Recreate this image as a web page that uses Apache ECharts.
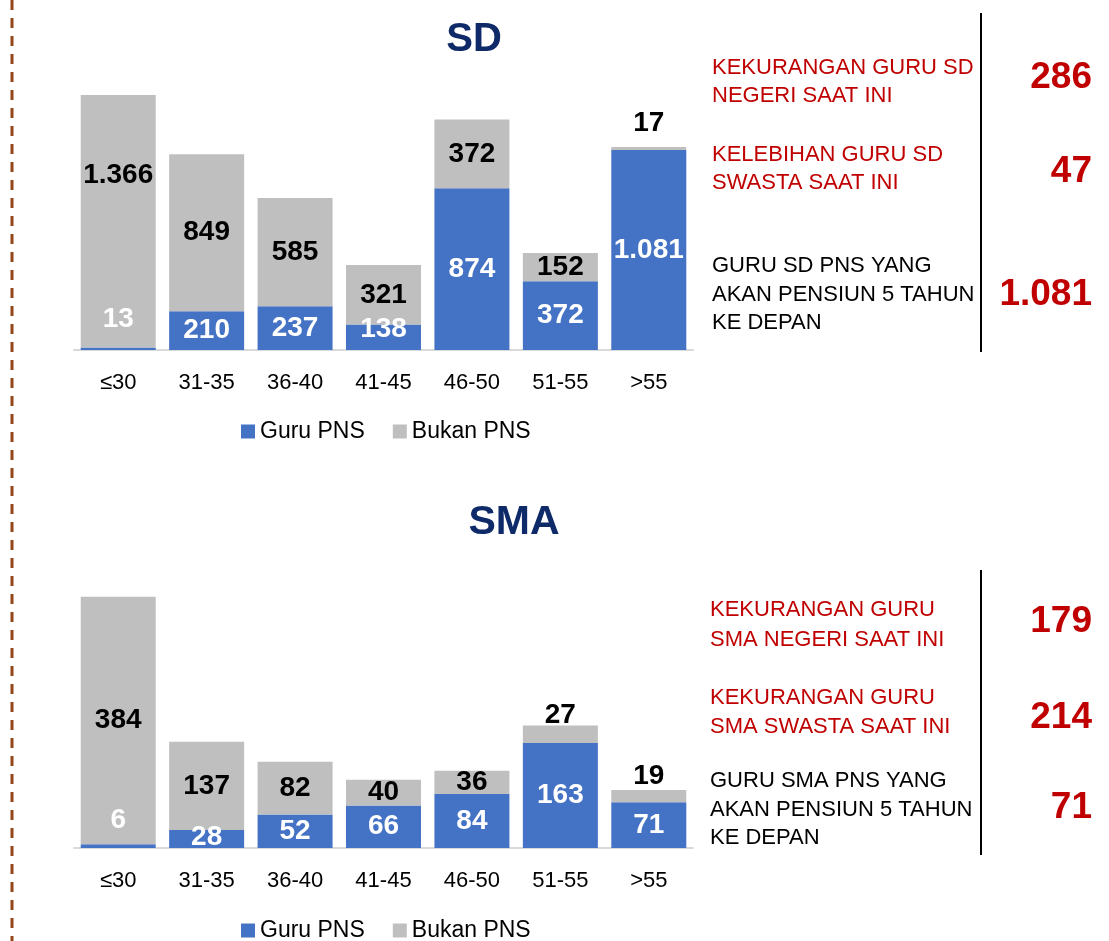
<!DOCTYPE html>
<html>
<head>
<meta charset="utf-8">
<script src="https://cdn.jsdelivr.net/npm/echarts@6/dist/echarts.min.js"></script>
<style>
html,body{margin:0;padding:0;background:#fff;}
#c{width:1109px;height:941px;}
</style>
</head>
<body>
<div id="c"></div>
<script>
// ---- data ----
const categories = ['≤30', '31-35', '36-40', '41-45', '46-50', '51-55', '>55'];
const seriesNames = ['Guru PNS', 'Bukan PNS'];
const sdPNS = [13, 210, 237, 138, 874, 372, 1081];
const sdBukan = [1366, 849, 585, 321, 372, 152, 17];
const smaPNS = [6, 28, 52, 66, 84, 163, 71];
const smaBukan = [384, 137, 82, 40, 36, 27, 19];
const sdTitle = 'SD';
const smaTitle = 'SMA';
const sdNotes = [
  ['KEKURANGAN GURU SD', 'NEGERI SAAT INI'],
  ['KELEBIHAN GURU SD', 'SWASTA SAAT INI'],
  ['GURU SD PNS YANG', 'AKAN PENSIUN 5 TAHUN', 'KE DEPAN']
];
const sdNoteValues = ['286', '47', '1.081'];
const smaNotes = [
  ['KEKURANGAN GURU', 'SMA NEGERI SAAT INI'],
  ['KEKURANGAN GURU', 'SMA SWASTA SAAT INI'],
  ['GURU SMA PNS YANG', 'AKAN PENSIUN 5 TAHUN', 'KE DEPAN']
];
const smaNoteValues = ['179', '214', '71'];

// ---- styling ----
const BLUE = '#4472C4', GRAY = '#BFBFBF', RED = '#C00000', NAVY = '#0F2A69';
const FONT = "'Liberation Sans', Arial, sans-serif";
const fmt = v => v >= 1000 ? String(v).replace(/\B(?=(\d{3})+(?!\d))/g, '.') : String(v);

const baseLabel = {
  show: true, position: 'inside', fontFamily: FONT, fontWeight: 'bold', fontSize: 28,
  formatter: p => fmt(p.value)
};

function mkData(values, overrides) {
  return values.map((v, i) => overrides[i] ? { value: v, label: overrides[i] } : v);
}

const sdPNSOv = { 0: { position: 'top', distance: 14 }, 3: { offset: [0, -8] } };
const sdBukanOv = { 0: { offset: [0, -46] }, 6: { position: 'top', distance: 10 } };
const smaPNSOv = { 0: { position: 'top', distance: 10 }, 1: { offset: [0, -2] } };
const smaBukanOv = { 5: { position: 'top', distance: -4 }, 6: { position: 'top', distance: 0 } };

function xAx(gi) {
  return {
    type: 'category', gridIndex: gi, data: categories,
    axisLine: { lineStyle: { color: '#D9D9D9', width: 2 } },
    axisTick: { show: false },
    axisLabel: { color: '#000', fontFamily: FONT, fontSize: 22, margin: 22 }
  };
}

function bar(name, gi, values, ov, color, labelColor, stack) {
  return {
    name, type: 'bar', xAxisIndex: gi, yAxisIndex: gi, stack, barWidth: 75,
    itemStyle: { color },
    label: Object.assign({}, baseLabel, { color: labelColor }),
    data: mkData(values, ov)
  };
}

function legend(top) {
  return {
    top, left: 236, itemWidth: 14, itemHeight: 14, icon: 'rect', itemGap: 28,
    data: seriesNames, selectedMode: false,
    textStyle: { color: '#000', fontFamily: FONT, fontSize: 23 }
  };
}

function panel(notes, values, x, lineYs, valueYs) {
  const els = [];
  notes.forEach((lines, k) => {
    lines.forEach((t, j) => {
      els.push({
        type: 'text', x, y: lineYs[k][j],
        style: { text: t, fill: k < 2 ? RED : '#000', font: '22px ' + FONT, textVerticalAlign: 'middle', textAlign: 'left' }
      });
    });
    els.push({
      type: 'text', x: 1092, y: valueYs[k],
      style: { text: values[k], fill: RED, font: 'bold 37px ' + FONT, textVerticalAlign: 'middle', textAlign: 'right' }
    });
  });
  return els;
}

const graphic = [
  { type: 'line', shape: { x1: 12, y1: 0, x2: 12, y2: 941 }, style: { stroke: '#94461A', lineWidth: 3, lineDash: [10, 8] } },
  { type: 'line', shape: { x1: 981, y1: 13, x2: 981, y2: 352 }, style: { stroke: '#000', lineWidth: 2 } },
  { type: 'line', shape: { x1: 981, y1: 570, x2: 981, y2: 855 }, style: { stroke: '#000', lineWidth: 2 } }
].concat(
  panel(sdNotes, sdNoteValues, 712, [[68, 96], [155, 183], [266, 295, 323]], [78, 172, 295]),
  panel(smaNotes, smaNoteValues, 710, [[610, 640], [698, 727], [781, 810, 838]], [622, 718, 808])
);

const option = {
  animation: false,
  backgroundColor: '#fff',
  title: [
    { text: sdTitle, left: 469, top: 15, textAlign: 'center', textStyle: { color: NAVY, fontFamily: FONT, fontWeight: 'bold', fontSize: 40 } },
    { text: smaTitle, left: 509, top: 497, textAlign: 'center', textStyle: { color: NAVY, fontFamily: FONT, fontWeight: 'bold', fontSize: 41 } }
  ],
  legend: [legend(415), legend(914)],
  grid: [
    { left: 74, right: 416, top: 80, height: 270 },
    { left: 74, right: 416, top: 580, height: 268 }
  ],
  xAxis: [xAx(0), xAx(1)],
  yAxis: [
    { type: 'value', gridIndex: 0, min: 0, max: 1460, show: false, splitLine: { show: false } },
    { type: 'value', gridIndex: 1, min: 0, max: 416, show: false, splitLine: { show: false } }
  ],
  series: [
    bar(seriesNames[0], 0, sdPNS, sdPNSOv, BLUE, '#fff', 'sd'),
    bar(seriesNames[1], 0, sdBukan, sdBukanOv, GRAY, '#000', 'sd'),
    bar(seriesNames[0], 1, smaPNS, smaPNSOv, BLUE, '#fff', 'sma'),
    bar(seriesNames[1], 1, smaBukan, smaBukanOv, GRAY, '#000', 'sma')
  ],
  graphic
};

const chart = echarts.init(document.getElementById('c'), null, { renderer: 'canvas' });
chart.setOption(option);
</script>
</body>
</html>
